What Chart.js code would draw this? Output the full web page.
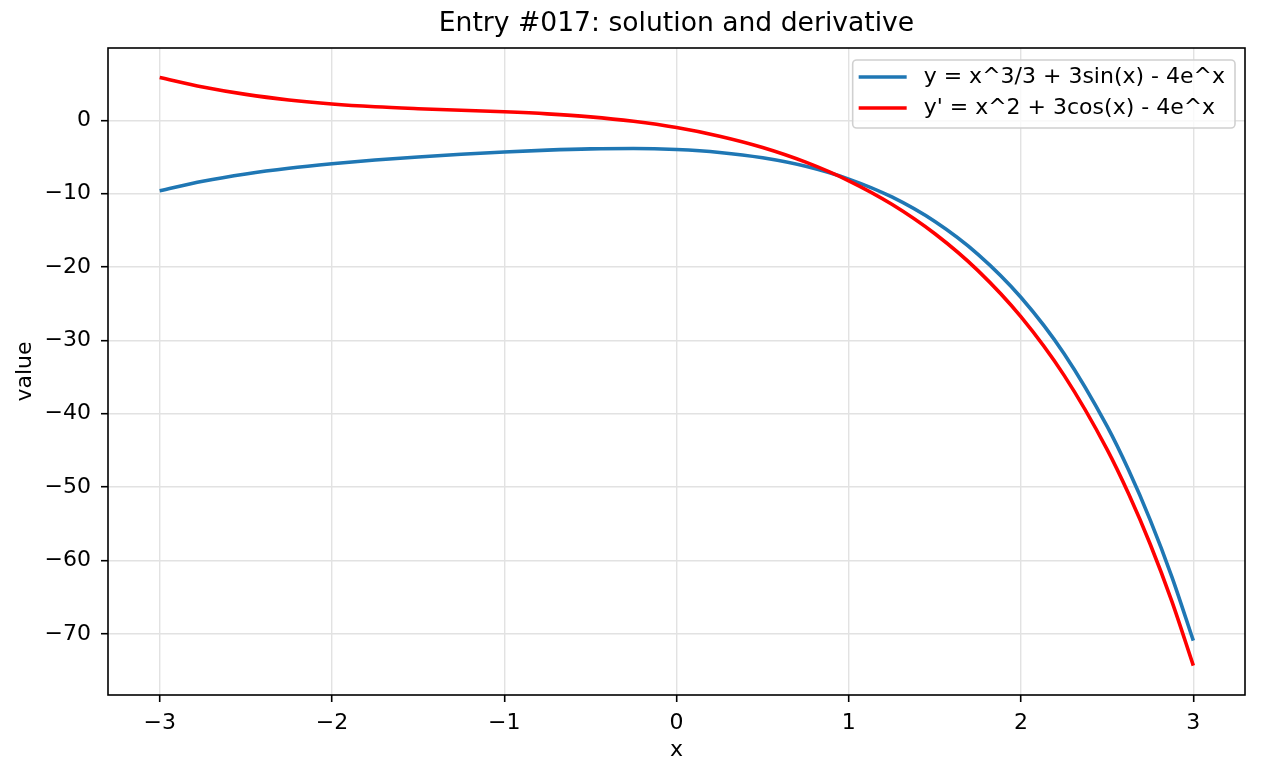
<!DOCTYPE html>
<html lang="en">
    <head>
        <meta charset="UTF-8">
        <title>Entry #017</title>
        <style>
            html, body { margin: 0; padding: 0; background: #ffffff; }
        </style>
    </head>
    <body>
        <canvas id="myChart" width="1261" height="776"></canvas>
    </body>
    <script src="https://cdn.jsdelivr.net/npm/chart.js@4.4.1/dist/chart.umd.min.js"></script>
    <script>

        // values
        const xValues = [-3, -2.75, -2.5, -2.25, -2, -1.75, -1.5, -1.25, -1, -0.75, -0.5, -0.25,
                         0, 0.25, 0.5, 0.75, 1, 1.25, 1.5, 1.75, 2, 2.25, 2.5, 2.625, 2.75, 2.875, 3]
        const solutionValues = [-9.62, -8.33, -7.33, -6.55, -5.94, -5.43, -5.01, -4.64, -4.33, -4.08, -3.91, -3.86,
                                -4.00, -4.39, -5.12, -6.28, -8.02, -10.46, -13.81, -18.28, -24.16, -31.82, -41.73, -47.71, -54.49, -62.19, -70.92]
        const derivativeValues = [5.83, 4.53, 3.52, 2.76, 2.21, 1.83, 1.57, 1.36, 1.15, 0.87, 0.46, -0.15,
                                  -1.00, -2.17, -3.71, -5.71, -8.25, -11.45, -15.47, -20.49, -26.80, -34.77, -44.88, -50.94, -57.78, -65.53, -74.31]
        const xTicks = [-3, -2, -1, 0, 1, 2, 3]
        const yTicks = [-70, -60, -50, -40, -30, -20, -10, 0]
        const seriesLabels = ['y = x^3/3 + 3sin(x) - 4e^x', "y' = x^2 + 3cos(x) - 4e^x"]
        const seriesColors = ['#1f77b4', '#ff0000']
        const chartTitle = 'Entry #017: solution and derivative'

        const fontFamily = '"DejaVu Sans", sans-serif'
        const fontSize = 22

        const fmt = function(v) {
            return v < 0 ? '\u2212' + Math.abs(v) : String(v)
        }

        // title, frame and legend drawn over the axes like matplotlib
        const framePlugin = {
            id: 'frame',
            afterDraw(chart) {
                const ctx = chart.ctx
                const a = chart.chartArea
                ctx.save()

                ctx.font = '26.6px ' + fontFamily
                ctx.fillStyle = '#000000'
                ctx.textAlign = 'center'
                ctx.textBaseline = 'middle'
                ctx.fillText(chartTitle, (a.left + a.right) / 2, 24)

                ctx.strokeStyle = '#000000'
                ctx.lineWidth = 1.6
                ctx.strokeRect(a.left, a.top, a.right - a.left, a.bottom - a.top)

                // legend
                ctx.font = fontSize + 'px ' + fontFamily
                let textW = 0
                seriesLabels.forEach(l => { textW = Math.max(textW, ctx.measureText(l).width) })
                const boxW = 6 + 48 + 17 + textW + 10
                const boxH = 68
                const bx = a.right - 10 - boxW
                const by = a.top + 12
                ctx.beginPath()
                ctx.roundRect(bx, by, boxW, boxH, 4)
                ctx.fillStyle = 'rgba(255,255,255,0.8)'
                ctx.fill()
                ctx.strokeStyle = '#d0d0d0'
                ctx.lineWidth = 1.6
                ctx.stroke()
                seriesLabels.forEach((l, i) => {
                    const cy = by + 17 + i * 31
                    ctx.beginPath()
                    ctx.moveTo(bx + 6, cy)
                    ctx.lineTo(bx + 54, cy)
                    ctx.strokeStyle = seriesColors[i]
                    ctx.lineWidth = 3.6
                    ctx.stroke()
                    ctx.fillStyle = '#000000'
                    ctx.textBaseline = 'middle'
                    ctx.textAlign = 'left'
                    ctx.fillText(l, bx + 71, cy)
                })
                ctx.restore()
            }
        }

        const ctx = document.getElementById('myChart')

        const lineChart = new Chart(ctx, {
            type: 'line',
            data: {
                datasets: [{
                    label: seriesLabels[0],
                    data: xValues.map((x, i) => ({ x: x, y: solutionValues[i] })),
                    borderColor: seriesColors[0],
                    borderWidth: 3.6,
                    pointRadius: 0,
                    cubicInterpolationMode: 'monotone',
                    order: 1
                }, {
                    label: seriesLabels[1],
                    data: xValues.map((x, i) => ({ x: x, y: derivativeValues[i] })),
                    borderColor: seriesColors[1],
                    borderWidth: 3.6,
                    pointRadius: 0,
                    cubicInterpolationMode: 'monotone',
                    order: 0
                }]
            },
            options: {
                responsive: false,
                animation: false,
                layout: { padding: { left: 0, right: 16, top: 48, bottom: 0 } },
                plugins: {
                    legend: { display: false },
                    tooltip: { enabled: false },
                    title: { display: false }
                },
                scales: {
                    x: {
                        type: 'linear',
                        min: -3.3,
                        max: 3.3,
                        afterBuildTicks: s => { s.ticks = xTicks.map(v => ({ value: v })) },
                        afterFit: s => { s.height = 81 },
                        ticks: {
                            callback: fmt,
                            color: '#000000',
                            font: { family: fontFamily, size: fontSize },
                            padding: 8,
                            maxRotation: 0
                        },
                        grid: { color: '#e2e2e2', lineWidth: 1.4, tickColor: '#000000', tickLength: 7, tickWidth: 1.6 },
                        border: { display: false },
                        title: {
                            display: true,
                            text: 'x',
                            color: '#000000',
                            font: { family: fontFamily, size: fontSize, lineHeight: 1.2 },
                            padding: { top: 0, bottom: 13 }
                        }
                    },
                    y: {
                        min: -78.32,
                        max: 9.84,
                        afterBuildTicks: s => { s.ticks = yTicks.map(v => ({ value: v })) },
                        afterFit: s => { s.width = 108 },
                        ticks: {
                            callback: fmt,
                            color: '#000000',
                            font: { family: fontFamily, size: fontSize },
                            padding: 10
                        },
                        grid: { color: '#e2e2e2', lineWidth: 1.4, tickColor: '#000000', tickLength: 7, tickWidth: 1.6 },
                        border: { display: false },
                        title: {
                            display: true,
                            text: 'value',
                            color: '#000000',
                            font: { family: fontFamily, size: fontSize, lineHeight: 1.2 },
                            padding: { top: 12, bottom: 0 }
                        }
                    }
                }
            },
            plugins: [framePlugin]
        })
    </script>
</html>
